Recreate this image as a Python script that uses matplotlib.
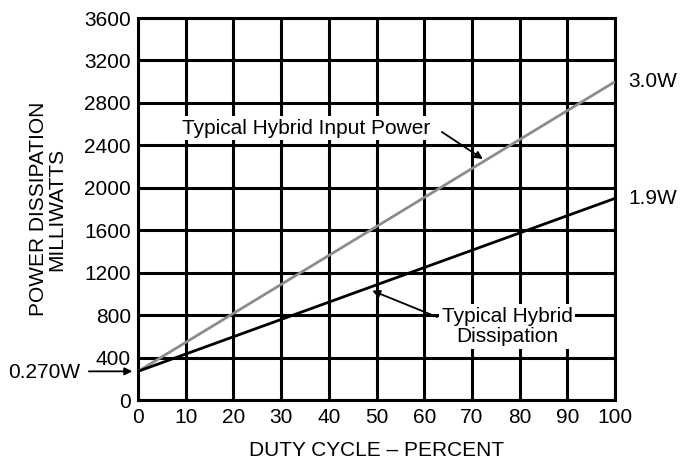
import matplotlib
matplotlib.use("Agg")
import matplotlib.pyplot as plt

plt.rcParams['font.family'] = ['Liberation Sans', 'DejaVu Sans']

duty = [0, 100]
input_power = [270, 3000]
dissipation = [270, 1900]
x_ticks = list(range(0, 101, 10))
y_ticks = list(range(0, 3601, 400))

FS = 15

fig = plt.figure(figsize=(6.81, 4.63), dpi=100)
ax = fig.add_axes([138/681, 1-400/463, 477/681, 382/463])
ax.set_xlim(0, 100)
ax.set_ylim(0, 3600)
ax.set_xticks(x_ticks)
ax.set_yticks(y_ticks)
ax.tick_params(length=0, labelsize=FS, colors='black')
ax.tick_params(axis='x', pad=6)
ax.tick_params(axis='y', pad=5)
ax.grid(True, color='black', lw=2.2)
ax.set_axisbelow(True)
for s in ax.spines.values():
    s.set_linewidth(2.2)

ax.plot(duty, input_power, color='#8c8c8c', lw=2, zorder=3, solid_capstyle='butt')
ax.plot(duty, dissipation, color='black', lw=2, zorder=3, solid_capstyle='butt')

ax.set_xlabel('DUTY CYCLE – PERCENT', fontsize=FS, labelpad=10)
ax.set_ylabel('POWER DISSIPATION\nMILLIWATTS', fontsize=FS, labelpad=13, linespacing=0.95)

ap = dict(arrowstyle='-|>', lw=1.3, color='black', mutation_scale=11, shrinkA=0, shrinkB=0)
bb = dict(boxstyle='square,pad=0.12', fc='white', ec='none')

ax.text(9.2, 2563, 'Typical Hybrid Input Power', fontsize=FS, ha='left', va='center',
        bbox=bb, zorder=5)
ax.annotate('', xy=(72.3, 2271), xytext=(63.7, 2526), arrowprops=ap, zorder=5)

ax.text(77.4, 695, 'Typical Hybrid\nDissipation', fontsize=FS, ha='center', va='center',
        bbox=bb, linespacing=1.1, zorder=5)
ax.annotate('', xy=(49.1, 1030), xytext=(62.7, 782), arrowprops=ap, zorder=5)

ax.text(-19.7, 260, '0.270W', fontsize=FS, ha='center', va='center', clip_on=False)
ax.annotate('', xy=(-1.2, 270), xytext=(-10.3, 270), arrowprops=ap,
            annotation_clip=False, zorder=5)

ax.text(102.7, 3000, '3.0W', fontsize=FS, ha='left', va='center', clip_on=False)
ax.text(102.7, 1900, '1.9W', fontsize=FS, ha='left', va='center', clip_on=False)

fig.savefig('out.png', dpi=100)
